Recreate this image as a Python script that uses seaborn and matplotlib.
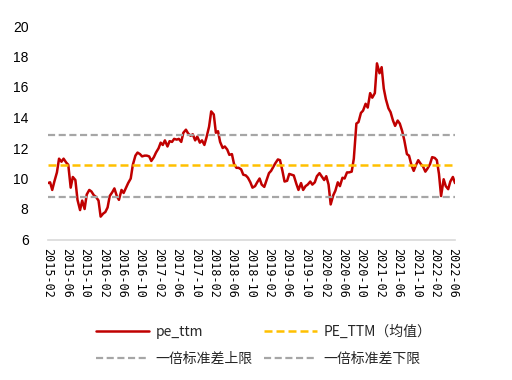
import matplotlib
matplotlib.use("Agg")
import matplotlib.pyplot as plt
import matplotlib.dates as mdates
import seaborn as sns
import pandas as pd

# ---- data (semi-monthly) ----
start_date = "2015-02-01"
pe_ttm = [
    9.7, 9.75, 9.25, 9.8, 10.4, 11.3, 11.1, 11.3, 11.05, 10.9,
    9.4, 10.1, 9.9, 8.6, 7.93, 8.55, 8.0, 8.95, 9.25, 9.15,
    8.9, 8.8, 8.55, 7.5, 7.7, 7.8, 8.1, 8.85, 9.1, 9.35,
    8.85, 8.6, 9.25, 9.05, 9.4, 9.7, 10.0, 10.9, 11.5, 11.7,
    11.6, 11.45, 11.5, 11.5, 11.45, 11.15, 11.4, 11.7, 11.98, 12.35,
    12.2, 12.5, 12.1, 12.45, 12.4, 12.6, 12.55, 12.6, 12.4, 13.0,
    13.2, 12.96, 12.8, 12.9, 12.5, 12.75, 12.35, 12.5, 12.2, 12.7,
    13.4, 14.4, 14.2, 13.0, 13.1, 12.4, 12.0, 12.1, 11.9, 11.55,
    11.6, 10.95, 10.7, 10.7, 10.6, 10.25, 10.2, 10.05, 9.75, 9.4,
    9.5, 9.75, 10.0, 9.6, 9.45, 9.85, 10.35, 10.5, 10.75, 11.0,
    11.25, 11.2, 10.5, 9.8, 9.85, 10.3, 10.25, 10.2, 9.65, 9.25,
    9.7, 9.25, 9.5, 9.6, 9.8, 9.6, 9.75, 10.15, 10.35, 10.15,
    9.9, 10.15, 9.6, 8.3, 8.9, 9.2, 9.75, 9.5, 10.05, 10.0,
    10.4, 10.4, 10.45, 11.3, 13.6, 13.7, 14.3, 14.45, 14.9, 14.65,
    15.6, 15.3, 15.6, 17.55, 16.9, 17.3, 15.9, 15.2, 14.6, 14.35,
    13.8, 13.45, 13.8, 13.6, 13.1, 12.5, 11.6, 11.5, 10.85, 10.5,
    10.9, 11.2, 10.95, 10.8, 10.45, 10.65, 10.95, 11.4, 11.35, 11.2,
    10.3, 8.85, 9.95, 9.5, 9.3, 9.8, 10.1, 9.7,
]
pe_mean = 10.9
pe_upper = 12.85
pe_lower = 8.81
y_ticks = [6, 8, 10, 12, 14, 16, 18, 20]
labels = ["pe_ttm", "PE_TTM（均值）", "一倍标准差上限", "一倍标准差下限"]

dates = pd.date_range(start_date, periods=len(pe_ttm), freq="SMS")
df = pd.DataFrame({"date": dates, "pe_ttm": pe_ttm})

sns.set_style("white")
plt.rcParams["font.family"] = ["Noto Sans CJK SC", "DejaVu Sans"]

fig = plt.figure(figsize=(5.12, 3.80), dpi=100)
ax = fig.add_axes([48 / 512, 1 - 239.5 / 380, (455 - 48) / 512, (239.5 - 26) / 380])

sns.lineplot(data=df, x="date", y="pe_ttm", ax=ax, color="#C00000",
             linewidth=1.8, label=labels[0], zorder=2)
dash = (0, (3.2, 1.6))
ax.axhline(pe_mean, color="#FFC000", linewidth=1.8, linestyle=dash,
           label=labels[1], zorder=3)
ax.axhline(pe_upper, color="#A6A6A6", linewidth=1.6, linestyle=dash,
           label=labels[2], zorder=3)
ax.axhline(pe_lower, color="#A6A6A6", linewidth=1.6, linestyle=dash,
           label=labels[3], zorder=3)

ax.set_xlim(dates[0], dates[-1])
ax.set_ylim(y_ticks[0], y_ticks[-1])
ax.set_yticks(y_ticks)
ax.xaxis.set_major_locator(mdates.MonthLocator(bymonth=[2, 6, 10]))
ax.xaxis.set_major_formatter(mdates.DateFormatter("%Y-%m"))
ax.set_xlabel("")
ax.set_ylabel("")

for s in ["top", "right", "left"]:
    ax.spines[s].set_visible(False)
ax.spines["bottom"].set_color("#D9D9D9")
ax.spines["bottom"].set_linewidth(1.2)

ax.tick_params(axis="y", length=0, pad=14, labelsize=10, colors="#000000")
ax.tick_params(axis="x", length=0, pad=6, labelsize=8.5, colors="#000000")
for t in ax.get_yticklabels():
    t.set_fontfamily(["Liberation Sans"])
for t in ax.get_xticklabels():
    t.set_rotation(-90)
    t.set_fontfamily(["DejaVu Sans Mono"])
    t.set_ha("center")
    t.set_va("top")

handles, lbls = ax.get_legend_handles_labels()
ax.get_legend().remove()
order = [0, 2, 1, 3]  # row-wise layout: pe_ttm, mean / upper, lower
fig.legend([handles[i] for i in order], [lbls[i] for i in order],
           loc="center left", bbox_to_anchor=(89 / 512, 1 - 345 / 380),
           ncol=2, frameon=False, fontsize=10, handlelength=3.8,
           handletextpad=0.5, columnspacing=0.8, labelspacing=0.95, borderpad=0)

fig.savefig("out.png", dpi=100)
